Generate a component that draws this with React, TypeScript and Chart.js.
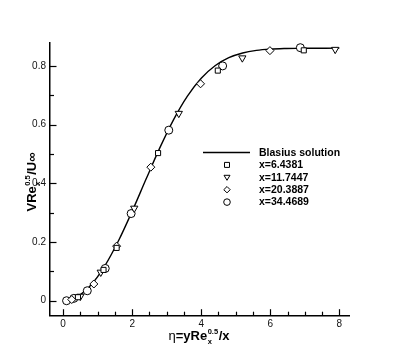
import React, { useEffect, useRef } from "react";
import { Chart, registerables } from "chart.js";
Chart.register(...registerables);

const blasiusEta = [0, 0.4, 0.8, 1.2, 1.6, 2.0, 2.4, 2.8, 3.2, 3.6, 4.0, 4.4, 4.8, 5.2, 5.6, 6.0, 6.4, 6.8, 7.2, 7.6, 8.0];
const blasiusV = [0, 0.0133, 0.0528, 0.1173, 0.2033, 0.3048, 0.4136, 0.5206, 0.6172, 0.6972, 0.7582, 0.8007, 0.828, 0.8441, 0.8528, 0.8571, 0.8591, 0.8599, 0.8602, 0.8603, 0.8604];

const sqEta = [0.43, 1.17, 1.55, 2.75, 4.48, 6.97];
const sqV = [0.012, 0.105, 0.18, 0.503, 0.784, 0.853];
const triEta = [0.5, 1.09, 2.06, 3.35, 5.19, 7.88];
const triV = [0.015, 0.097, 0.315, 0.638, 0.827, 0.856];
const diaEta = [0.25, 0.89, 1.55, 2.54, 3.98, 5.99];
const diaV = [0.004, 0.057, 0.186, 0.455, 0.739, 0.852];
const cirEta = [0.1, 0.31, 0.7, 1.22, 1.97, 3.06, 4.62, 6.87];
const cirV = [0, 0.008, 0.034, 0.11, 0.297, 0.581, 0.8, 0.862];

const legendLabels = ["Blasius solution", "x=6.4381", "x=11.7447", "x=20.3887", "x=34.4689"];
const xTicks = [0, 2, 4, 6, 8];
const yTicks = [0, 0.2, 0.4, 0.6, 0.8];

const FONT = '"Liberation Sans", Arial, Helvetica, sans-serif';

const pts = (xs: number[], ys: number[]) => xs.map((x, i) => ({ x, y: ys[i] }));

type Part = { t: string; bold?: boolean; sup?: string; sub?: string };

function partsWidth(ctx: CanvasRenderingContext2D, parts: Part[], size: number, small: number) {
  let w = 0;
  for (const p of parts) {
    if (p.sup !== undefined) {
      ctx.font = `bold ${small}px ${FONT}`;
      w += Math.max(ctx.measureText(p.sup).width, ctx.measureText(p.sub || "").width) + 1;
    } else {
      ctx.font = `${p.bold ? "bold " : ""}${size}px ${FONT}`;
      w += ctx.measureText(p.t).width;
    }
  }
  return w;
}

function drawParts(ctx: CanvasRenderingContext2D, parts: Part[], size: number, small: number) {
  const w = partsWidth(ctx, parts, size, small);
  let x = -w / 2;
  ctx.textBaseline = "alphabetic";
  ctx.textAlign = "left";
  for (const p of parts) {
    if (p.sup !== undefined) {
      ctx.font = `bold ${small}px ${FONT}`;
      const sw = Math.max(ctx.measureText(p.sup).width, ctx.measureText(p.sub || "").width);
      ctx.fillText(p.sup, x + 0.5, -size * 0.5);
      ctx.fillText(p.sub || "", x + 0.5, size * 0.28);
      x += sw + 1;
    } else {
      ctx.font = `${p.bold ? "bold " : ""}${size}px ${FONT}`;
      ctx.fillText(p.t, x, 0);
      x += ctx.measureText(p.t).width;
    }
  }
}

const decorPlugin = {
  id: "decor",
  afterDraw(chart: any) {
    const ctx: CanvasRenderingContext2D = chart.ctx;
    const xs = chart.scales.x;
    const ys = chart.scales.y;
    const area = chart.chartArea;
    ctx.save();
    ctx.strokeStyle = "#000";
    ctx.lineWidth = 1.2;
    // inward ticks
    for (let v = 0; v <= 8.001; v += 0.5) {
      const px = Math.round(xs.getPixelForValue(v)) + 0.5;
      const major = Math.abs(v / 2 - Math.round(v / 2)) < 1e-6;
      ctx.beginPath();
      ctx.moveTo(px, area.bottom);
      ctx.lineTo(px, area.bottom - (major ? 6.5 : 4));
      ctx.stroke();
    }
    for (let v = 0; v <= 0.8001; v += 0.1) {
      const py = Math.round(ys.getPixelForValue(v)) + 0.5;
      const major = Math.abs(v / 0.2 - Math.round(v / 0.2)) < 1e-6;
      ctx.beginPath();
      ctx.moveTo(area.left, py);
      ctx.lineTo(area.left + (major ? 6.5 : 4), py);
      ctx.stroke();
    }
    ctx.fillStyle = "#000";
    // x title
    ctx.save();
    ctx.translate(199, 340);
    drawParts(ctx, [{ t: "η" }, { t: "=yRe", bold: true }, { t: "", sup: "0.5", sub: "x" }, { t: "/x", bold: true }], 13, 7.5);
    ctx.restore();
    // y title
    ctx.save();
    ctx.translate(36, 182);
    ctx.rotate(-Math.PI / 2);
    drawParts(ctx, [{ t: "VRe", bold: true }, { t: "", sup: "0.5", sub: "x" }, { t: "/U∞", bold: true }], 13, 7.5);
    ctx.restore();

    // legend
    const lx0 = 203, lx1 = 250, mx = 227, tx = 259;
    const y0 = 152.5, dy = 12.4;
    ctx.lineWidth = 1.3;
    ctx.beginPath();
    ctx.moveTo(lx0, y0);
    ctx.lineTo(lx1, y0);
    ctx.stroke();
    ctx.font = `bold 10.5px ${FONT}`;
    ctx.textBaseline = "middle";
    ctx.textAlign = "left";
    legendLabels.forEach((l, i) => ctx.fillText(l, tx, y0 + i * dy + 0.5));
    ctx.lineWidth = 1;
    ctx.fillStyle = "#fff";
    // square
    let cy = y0 + dy;
    ctx.beginPath();
    ctx.rect(mx - 2.5, cy - 2.5, 5, 5);
    ctx.fill();
    ctx.stroke();
    // triangle down
    cy = y0 + 2 * dy;
    ctx.beginPath();
    ctx.moveTo(mx - 3, cy - 2);
    ctx.lineTo(mx + 3, cy - 2);
    ctx.lineTo(mx, cy + 3);
    ctx.closePath();
    ctx.fill();
    ctx.stroke();
    // diamond
    cy = y0 + 3 * dy;
    ctx.beginPath();
    ctx.moveTo(mx, cy - 3.2);
    ctx.lineTo(mx + 3.2, cy);
    ctx.lineTo(mx, cy + 3.2);
    ctx.lineTo(mx - 3.2, cy);
    ctx.closePath();
    ctx.fill();
    ctx.stroke();
    // circle
    cy = y0 + 4 * dy;
    ctx.beginPath();
    ctx.arc(mx, cy, 3.3, 0, Math.PI * 2);
    ctx.fill();
    ctx.stroke();
    ctx.restore();
  },
};

export default function App() {
  const ref = useRef<HTMLCanvasElement>(null);
  useEffect(() => {
    if (!ref.current) return;
    const markerCommon = {
      showLine: false,
      borderColor: "#000",
      backgroundColor: "#fff",
      pointBorderColor: "#000",
      pointBackgroundColor: "#fff",
      pointBorderWidth: 1,
      order: 1,
    };
    const chart = new Chart(ref.current, {
      type: "scatter",
      data: {
        datasets: [
          { ...markerCommon, label: legendLabels[1], data: pts(sqEta, sqV), pointStyle: "rect", pointRadius: 3.6 },
          { ...markerCommon, label: legendLabels[2], data: pts(triEta, triV), pointStyle: "triangle", pointRotation: 180, pointRadius: 4.2 },
          { ...markerCommon, label: legendLabels[3], data: pts(diaEta, diaV), pointStyle: "rectRot", pointRadius: 4 },
          { ...markerCommon, label: legendLabels[4], data: pts(cirEta, cirV), pointStyle: "circle", pointRadius: 4 },
          {
            label: legendLabels[0],
            data: pts(blasiusEta, blasiusV),
            showLine: true,
            pointRadius: 0,
            borderColor: "#000",
            borderWidth: 1.4,
            cubicInterpolationMode: "monotone",
            order: 10,
          },
        ],
      },
      options: {
        animation: false,
        responsive: false,
        layout: { padding: { top: 43, right: 50, left: 0, bottom: 0 } },
        plugins: { legend: { display: false }, tooltip: { enabled: false } },
        scales: {
          x: {
            type: "linear",
            min: -0.38,
            max: 8.28,
            afterBuildTicks: (s: any) => { s.ticks = xTicks.map((v) => ({ value: v })); },
            afterFit: (s: any) => { s.height = 39.3; },
            grid: { display: false, drawTicks: false },
            border: { display: true, color: "#000", width: 1.5 },
            ticks: { color: "#111", font: { family: FONT, size: 10 }, padding: 3, maxRotation: 0 },
          },
          y: {
            type: "linear",
            min: -0.051,
            max: 0.878,
            afterBuildTicks: (s: any) => { s.ticks = yTicks.map((v) => ({ value: v })); },
            afterFit: (s: any) => { s.width = 50; },
            grid: { display: false, drawTicks: false },
            border: { display: true, color: "#000", width: 1.5 },
            ticks: { color: "#111", font: { family: FONT, size: 10 }, padding: 4, callback: (v: any) => (v === 0 ? "0" : Number(v).toFixed(1)) },
          },
        },
      },
      plugins: [decorPlugin],
    } as any);
    return () => chart.destroy();
  }, []);
  return (
    <div style={{ position: "absolute", left: 0, top: 0, width: 399, height: 355, background: "#fff" }}>
      <canvas ref={ref} width={399} height={355} style={{ width: 399, height: 355 }} />
    </div>
  );
}
